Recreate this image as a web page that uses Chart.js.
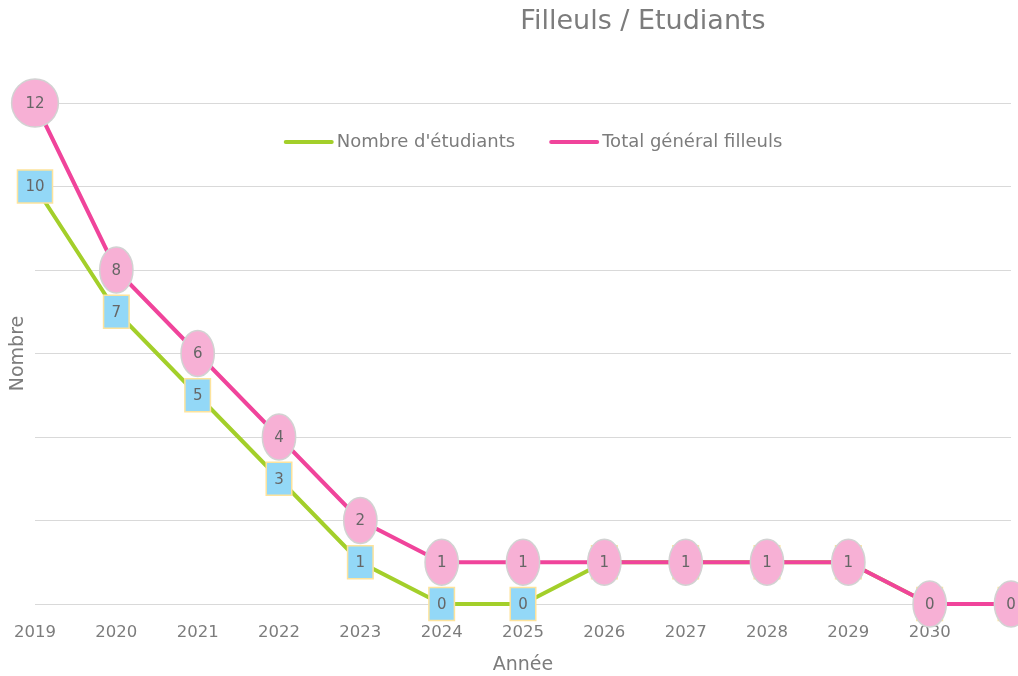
<!DOCTYPE html>
<html>
<head>
<meta charset="utf-8">
<title>Filleuls / Etudiants</title>
<script src="https://cdn.jsdelivr.net/npm/chart.js@4"></script>
<style>
    html, body { margin: 0; padding: 0; background: #fff; overflow: hidden; }
    #chart { display: block; }
</style>
</head>
<body>
<canvas id="chart" width="1018" height="676"></canvas>
<script>
const years = ['2019', '2020', '2021', '2022', '2023', '2024', '2025', '2026', '2027', '2028', '2029', '2030', '2031'];
const etudiants = [10, 7, 5, 3, 1, 0, 0, 1, 1, 1, 1, 0, 0];
const filleuls = [12, 8, 6, 4, 2, 1, 1, 1, 1, 1, 1, 0, 0];
const yTicks = [0, 2, 4, 6, 8, 10, 12];

const FONT = "'DejaVu Sans', 'Open Sans', sans-serif";
const TEXT_COLOR = '#7c7c7c';
const GREEN = '#a3cf2a';
const PINK = '#f0449b';

// étiquettes de données + titre + légende dessinés à la main
const overlayPlugin = {
    id: 'overlay',
    afterDatasetsDraw(chart) {
        const ctx = chart.ctx;
        ctx.save();
        ctx.font = '15px ' + FONT;
        ctx.textAlign = 'center';
        ctx.textBaseline = 'middle';

        // boîtes bleues (étudiants) en dessous
        const metaE = chart.getDatasetMeta(0);
        metaE.data.forEach((pt, i) => {
            const txt = String(etudiants[i]);
            const w = ctx.measureText(txt).width + 16;
            const h = 33;
            ctx.fillStyle = '#93d8f7';
            ctx.strokeStyle = '#fde39c';
            ctx.lineWidth = 1.5;
            ctx.fillRect(pt.x - w / 2, pt.y - h / 2, w, h);
            ctx.strokeRect(pt.x - w / 2, pt.y - h / 2, w, h);
            ctx.fillStyle = '#666';
            ctx.fillText(txt, pt.x, pt.y + 1);
        });

        // ellipses roses (filleuls) au dessus
        const metaF = chart.getDatasetMeta(1);
        metaF.data.forEach((pt, i) => {
            const txt = String(filleuls[i]);
            const rx = (ctx.measureText(txt).width + 14) * 1.414 / 2;
            const ry = txt.length > 1 ? 24 : 23;
            ctx.beginPath();
            ctx.ellipse(pt.x, pt.y, Math.max(rx, 16), ry, 0, 0, Math.PI * 2);
            ctx.fillStyle = '#f7b0d5';
            ctx.fill();
            ctx.strokeStyle = '#d2d2d2';
            ctx.lineWidth = 1.5;
            ctx.stroke();
            ctx.fillStyle = '#666';
            ctx.fillText(txt, pt.x, pt.y + 1);
        });
        ctx.restore();
    },
    afterDraw(chart) {
        const ctx = chart.ctx;
        ctx.save();
        // titre
        ctx.font = '27px ' + FONT;
        ctx.fillStyle = TEXT_COLOR;
        ctx.textAlign = 'center';
        ctx.textBaseline = 'middle';
        ctx.fillText('Filleuls / Etudiants', 643, 22);

        // légende
        ctx.font = '18px ' + FONT;
        ctx.textAlign = 'left';
        const sample = 50, gap = 3, itemGap = 34;
        const items = [0, 1].map(i => {
            const ds = chart.data.datasets[i];
            return { label: ds.label, color: ds.borderColor, w: sample + gap + ctx.measureText(ds.label).width };
        });
        const total = items.reduce((s, it) => s + it.w, 0) + itemGap;
        let x = 533 - total / 2;
        const y = 142;
        items.forEach(it => {
            ctx.strokeStyle = it.color;
            ctx.lineWidth = 4;
            ctx.lineCap = 'round';
            ctx.beginPath();
            ctx.moveTo(x + 2, y);
            ctx.lineTo(x + sample - 2, y);
            ctx.stroke();
            ctx.fillStyle = TEXT_COLOR;
            ctx.fillText(it.label, x + sample + gap, y);
            x += it.w + itemGap;
        });
        ctx.restore();
    }
};

const ctx = document.getElementById('chart').getContext('2d');
const chart = new Chart(ctx, {
    type: 'line',
    data: {
        labels: years,
        datasets: [{
            label: "Nombre d'étudiants",
            data: etudiants,
            borderColor: GREEN,
            backgroundColor: GREEN,
            borderWidth: 4,
            pointRadius: 0,
            tension: 0,
            clip: false,
            order: 1
        }, {
            label: 'Total général filleuls',
            data: filleuls,
            borderColor: PINK,
            backgroundColor: PINK,
            borderWidth: 4,
            pointRadius: 0,
            tension: 0,
            clip: false,
            order: 0
        }]
    },
    options: {
        responsive: false,
        animation: false,
        devicePixelRatio: 1,
        layout: {
            padding: { left: 2.6, right: 0, top: 103, bottom: 0 }
        },
        plugins: {
            legend: { display: false },
            title: { display: false },
            tooltip: { enabled: false }
        },
        scales: {
            x: {
                type: 'category',
                offset: false,
                grid: { display: false, drawTicks: true, tickLength: 12 },
                border: { display: false },
                ticks: {
                    color: TEXT_COLOR,
                    font: { family: FONT, size: 16.5 },
                    padding: 7,
                    maxRotation: 0,
                    autoSkip: false,
                    callback: (v, i) => i === years.length - 1 ? '' : years[i]
                },
                title: {
                    display: true,
                    text: 'Année',
                    color: TEXT_COLOR,
                    font: { family: FONT, size: 19 },
                    padding: { top: 3.4, bottom: 0 }
                }
            },
            y: {
                min: yTicks[0],
                max: yTicks[yTicks.length - 1],
                grid: { color: '#d9d9d9', lineWidth: 1, drawTicks: false },
                border: { display: false },
                ticks: { display: false, stepSize: 2 },
                afterBuildTicks: scale => { scale.ticks = yTicks.map(v => ({ value: v })); },
                title: {
                    display: true,
                    text: 'Nombre',
                    color: TEXT_COLOR,
                    font: { family: FONT, size: 19 },
                    padding: { top: 4, bottom: 5.6 }
                }
            }
        }
    },
    plugins: [overlayPlugin]
});
</script>
</body>
</html>
